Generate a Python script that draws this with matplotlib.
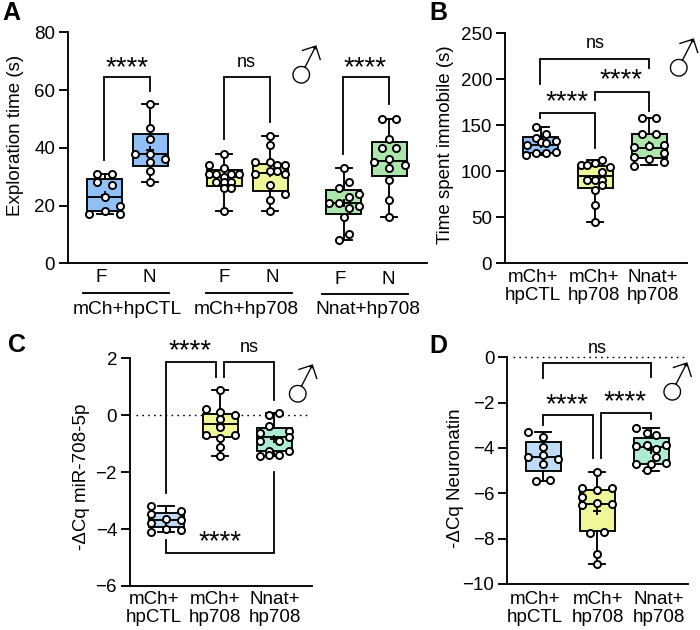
import matplotlib
matplotlib.use("Agg")
import numpy as np
import matplotlib.pyplot as plt
import matplotlib.patheffects as pe

plt.rcParams['font.family'] = ['Liberation Sans', 'DejaVu Sans']
W, H = 700, 630
DPI = 100
LW = 1.35
BLUE, YEL, GRN = '#90C0F5', '#F0F69A', '#ADE6AC'
LBLUE, TEAL = '#BFDBF5', '#ADEBD3'

# ---------- data: panel A ----------
A_labels_sub = ['F', 'N', 'F', 'N', 'F', 'N']
A_groups = ['mCh+hpCTL', 'mCh+hp708', 'Nnat+hp708']
A_v = [
    [31, 31, 28, 27, 23, 20, 18, 17, 17],
    [55, 47, 43, 38, 38, 36, 35, 32, 28],
    [38, 34, 33, 31, 31, 31, 31, 30, 28, 28, 28, 26, 26, 18],
    [44, 41, 35, 35, 34, 34, 32, 32, 31, 31, 27, 24, 22, 18],
    [33, 28, 26, 24, 23, 21, 21, 20, 19, 16, 10, 8],
    [50, 50, 43, 40, 40, 36, 35, 34, 33, 29, 22, 16],
]
A_box = [  # whislo, q1, med, q3, whishi
    [17, 18, 23, 29.3, 31],
    [28, 33.7, 38, 44.8, 55],
    [18, 26.8, 30, 32.3, 38],
    [18, 25, 31.4, 34.5, 44],
    [8, 17, 21, 25.3, 33],
    [16, 30.3, 35.5, 42, 50],
]
# ---------- data: panel B ----------
B_v = [
    [148, 141, 136, 132, 131, 129, 133, 118, 120, 120, 121],
    [112, 107, 107, 109, 105, 99, 91, 91, 91, 85, 80, 63, 45],
    [158, 158, 141, 141, 127, 129, 126, 120, 116, 113, 110, 106],
]
B_box = [
    [118, 120, 129, 137.7, 148],
    [45, 82, 95, 105.8, 112],
    [107, 115, 125.7, 140.6, 158],
]
# ---------- data: panel C ----------
C_v = [
    [-3.19, -3.35, -3.48, -3.79, -3.64, -3.68, -4.0, -4.05, -4.11],
    [0.89, 0.21, 0.13, 0.01, -0.14, -0.4, -0.69, -0.69, -0.81, -1.1, -1.43],
    [0.01, 0.08, -0.37, -0.54, -0.61, -0.89, -0.78, -0.89, -1.24, -1.26, -1.38, -1.38, -1.43],
]
C_box = [
    [-4.11, -3.92, -3.68, -3.45, -3.19],
    [-1.43, -0.77, -0.32, 0.05, 0.89],
    [-1.43, -1.24, -0.78, -0.44, 0.08],
]
# ---------- data: panel D ----------
D_v = [
    [-3.31, -3.5, -3.94, -4.31, -4.4, -4.5, -4.69, -5.47, -5.43],
    [-5.04, -5.75, -5.75, -5.87, -6.15, -6.51, -6.44, -6.47, -7.74, -7.71, -8.68, -9.12],
    [-3.12, -3.32, -3.41, -3.91, -3.87, -3.87, -4.04, -4.4, -4.69, -4.71, -4.68, -4.97],
]
D_box = [
    [-5.47, -5.01, -4.4, -3.75, -3.31],
    [-9.12, -7.68, -6.46, -5.85, -5.04],
    [-5.0, -4.71, -3.94, -3.54, -3.12],
]
cat_lines = [['mCh+', 'hpCTL'], ['mCh+', 'hp708'], ['Nnat+', 'hp708']]

# ---------- layout (pixels) ----------
A_pos = [104.5, 150, 224, 270, 343.5, 389]
A_off = [
    [-23, 22, -23, 22, 0, 45, 0, -46, 45],
    [0, 0, 0, -46, 0, 45, 0, 0, 0],
    [0, -45, 0, -45, -23, 22, 45, 0, -23, 0, 22, 0, 22, 0],
    [0, 0, -45, 0, 45, 22, 22, 0, -45, 45, 0, 45, 0, 0],
    [0, 15, -15, 45, 15, -45, -15, 45, 15, 0, 15, -15],
    [-22, 22, 0, -22, 22, 0, -45, 47, 0, 0, 0, 0],
]
B_pos = [540.7, 595, 649.3]
B_off = [
    [-15, 15, -15, 0, 15, -42, 45, -44, -15, 15, 45],
    [22, -43, -23, 0, 44, 22, 0, -23, 22, 22, 0, 0, 0],
    [-23, 21, -23, 21, 0, 44, -45, 44, -45, 0, 44, -45],
]
C_pos = [166, 220, 274.3]
C_off = [
    [-44, 44, -44, -44, 0, 44, 0, 44, -44],
    [0, -43, 0, 44, 0, 0, -43, 44, 0, 0, 0],
    [-16, 15, -16, 45, -44, 15, 45, -44, -16, 45, 15, -16, -44],
]
D_pos = [543, 597, 651]
D_off = [
    [-44, 0, 0, 0, -44, 44, 0, -22, 22],
    [0, -44, 44, 0, -44, -44, 0, 44, -22, 22, 0, 0],
    [-44, -13, 14, -44, -13, 45, 14, 14, -44, 0, 45, -13],
]

fig = plt.figure(figsize=(W / DPI, H / DPI), dpi=DPI)


def make_axes(x0, x1, ytop, ybot, ylim, yticks):
    ax = fig.add_axes([x0 / W, 1 - ybot / H, (x1 - x0) / W, (ybot - ytop) / H])
    ax.set_xlim(x0, x1)
    ax.set_ylim(*ylim)
    ax.set_yticks(yticks)
    ax.set_xticks([])
    ax.patch.set_alpha(0)
    for s in ['top', 'right']:
        ax.spines[s].set_visible(False)
    for s in ['left', 'bottom']:
        ax.spines[s].set_linewidth(LW)
    ax.tick_params(axis='y', length=6.8, width=LW, pad=2.5, labelsize=13.5)
    return ax


def boxes(ax, pos, box, vals, offs, colors):
    stats = [dict(whislo=b[0], q1=b[1], med=b[2], q3=b[3], whishi=b[4], mean=float(np.mean(v)))
             for b, v in zip(box, vals)]
    art = ax.bxp(stats, positions=pos, widths=35, capwidths=16, patch_artist=True, showfliers=False,
                 showmeans=True, manage_ticks=False,
                 boxprops=dict(linewidth=LW), whiskerprops=dict(linewidth=LW),
                 capprops=dict(linewidth=LW), medianprops=dict(color='k', linewidth=LW),
                 meanprops=dict(marker='+', markeredgecolor='k', markersize=6, markeredgewidth=LW))
    for p, c in zip(art['boxes'], colors):
        p.set_facecolor(c)
    for c, v, o in zip(pos, vals, offs):
        ax.scatter(c + np.array(o) / 3, v, s=26, facecolor='white', edgecolor='k',
                   linewidth=1.4, zorder=5, clip_on=False)


def bracket(ax, x1, x2, ytop, y1, y2):
    ax.plot([x1, x1, x2, x2], [y1, ytop, ytop, y2], color='k', lw=1.3, clip_on=False,
            solid_joinstyle='miter', zorder=1.5)


def stars(ax, x, y):
    ax.annotate('****', (x, y), xytext=(0, -2.2), textcoords='offset points', ha='center', va='center',
                fontsize=20, annotation_clip=False)


def ns(ax, x, y):
    ax.text(x, y, 'ns', ha='center', va='center', fontsize=13, clip_on=False)


def ftext(x, y, s, **kw):
    kw.setdefault('ha', 'center')
    kw.setdefault('va', 'center')
    kw.setdefault('fontsize', 13.5)
    return fig.text(x / W, 1 - y / H, s, **kw)


def male(x, y):
    t = ftext(x, y, '\u2642', fontsize=33, rotation=18, family=['Noto Sans CJK JP', 'DejaVu Sans'])
    t.set_path_effects([pe.Normal(), pe.Stroke(linewidth=1.3, foreground='white')])


# Panel A
axA = make_axes(68, 427, 32.3, 263.3, (0, 80), [0, 20, 40, 60, 80])
boxes(axA, A_pos, A_box, A_v, A_off, [BLUE, BLUE, YEL, YEL, GRN, GRN])
bracket(axA, 104, 150.3, 64.4, 35.8, 59.8)
bracket(axA, 224, 270, 64.4, 43, 48.8)
bracket(axA, 343.3, 389, 64.4, 37.8, 55)
stars(axA, 127, 68.5)
ns(axA, 246.5, 69.5)
stars(axA, 365.5, 68.5)
for x, y, s in zip([101, 149.5, 224, 272, 340, 388], [278, 278, 278, 278, 279, 279], A_labels_sub):
    ftext(x, y, s)
for (a, b, y), s, cx in zip([(83, 169, 293), (206, 292, 293), (322, 408, 294)], A_groups, [127.5, 246.5, 367.5]):
    fig.add_artist(plt.Line2D([a / W, b / W], [1 - y / H, 1 - y / H], color='k', lw=LW))
    ftext(cx, 309, s, fontsize=13.8)
ftext(16, 135, 'Exploration time (s)', rotation=90)
male(307.5, 69)

# Panel B
axB = make_axes(505, 687, 33.3, 263.3, (0, 250), [0, 50, 100, 150, 200, 250])
boxes(axB, B_pos, B_box, B_v, B_off, [BLUE, YEL, GRN])
bracket(axB, 540, 649.3, 222, 194.6, 212.7)
bracket(axB, 595, 649.3, 186.6, 178, 166)
bracket(axB, 540, 595, 163, 157.6, 125)
ns(axB, 595, 239)
stars(axB, 621, 202)
stars(axB, 567, 178)
for cx, l in zip([532.7, 594, 653], cat_lines):
    ftext(cx, 278, l[0])
    ftext(cx, 296, l[1])
ftext(445, 145, 'Time spent immobile (s)', rotation=90)
male(685, 62)

# Panel C
axC = make_axes(130, 311.7, 358.3, 586, (-6, 2), [-6, -4, -2, 0, 2])
axC.plot([136, 310], [0, 0], color='k', lw=1.0, ls=(0, (1.2, 3)), zorder=1)
boxes(axC, C_pos, C_box, C_v, C_off, [LBLUE, YEL, TEAL])
bracket(axC, 165.7, 215.7, 1.86, -2.72, 1.36)
bracket(axC, 224, 274.3, 1.86, 1.36, 0.54)
bracket(axC, 165.7, 274.3, -4.85, -4.38, -2.01)
stars(axC, 190.5, 2.35)
ns(axC, 249.5, 2.39)
stars(axC, 220, -4.34)
for cx, l in zip([154, 215, 275], cat_lines):
    ftext(cx, 600, l[0])
    ftext(cx, 618, l[1])
ftext(81, 477, '-\u0394Cq miR-708-5p', rotation=90)
male(304, 388)

# Panel D
axD = make_axes(507.3, 687.7, 357.3, 584, (-10, 0), [-10, -8, -6, -4, -2, 0])
axD.plot([513, 687], [0, 0], color='k', lw=1.0, ls=(0, (1.2, 3)), zorder=1, clip_on=False)
boxes(axD, D_pos, D_box, D_v, D_off, [LBLUE, YEL, TEAL])
bracket(axD, 543, 651, -0.26, -0.93, -0.85)
bracket(axD, 543, 592.7, -2.56, -2.99, -4.46)
bracket(axD, 601, 651, -2.47, -4.46, -2.74)
ns(axD, 597, 0.4)
stars(axD, 567.5, -1.96)
stars(axD, 625.5, -1.85)
for cx, l in zip([535, 598, 659], cat_lines):
    ftext(cx, 599, l[0])
    ftext(cx, 618, l[1])
ftext(455, 478, '-\u0394Cq Neuronatin', rotation=90)
male(678.5, 386)

# Panel letters
for s, x, y in zip('ABCD', [11, 438, 17, 438], [13, 13, 345, 346]):
    ftext(x, y, s, fontsize=18, fontweight='bold')

fig.savefig('out.png', dpi=DPI)
